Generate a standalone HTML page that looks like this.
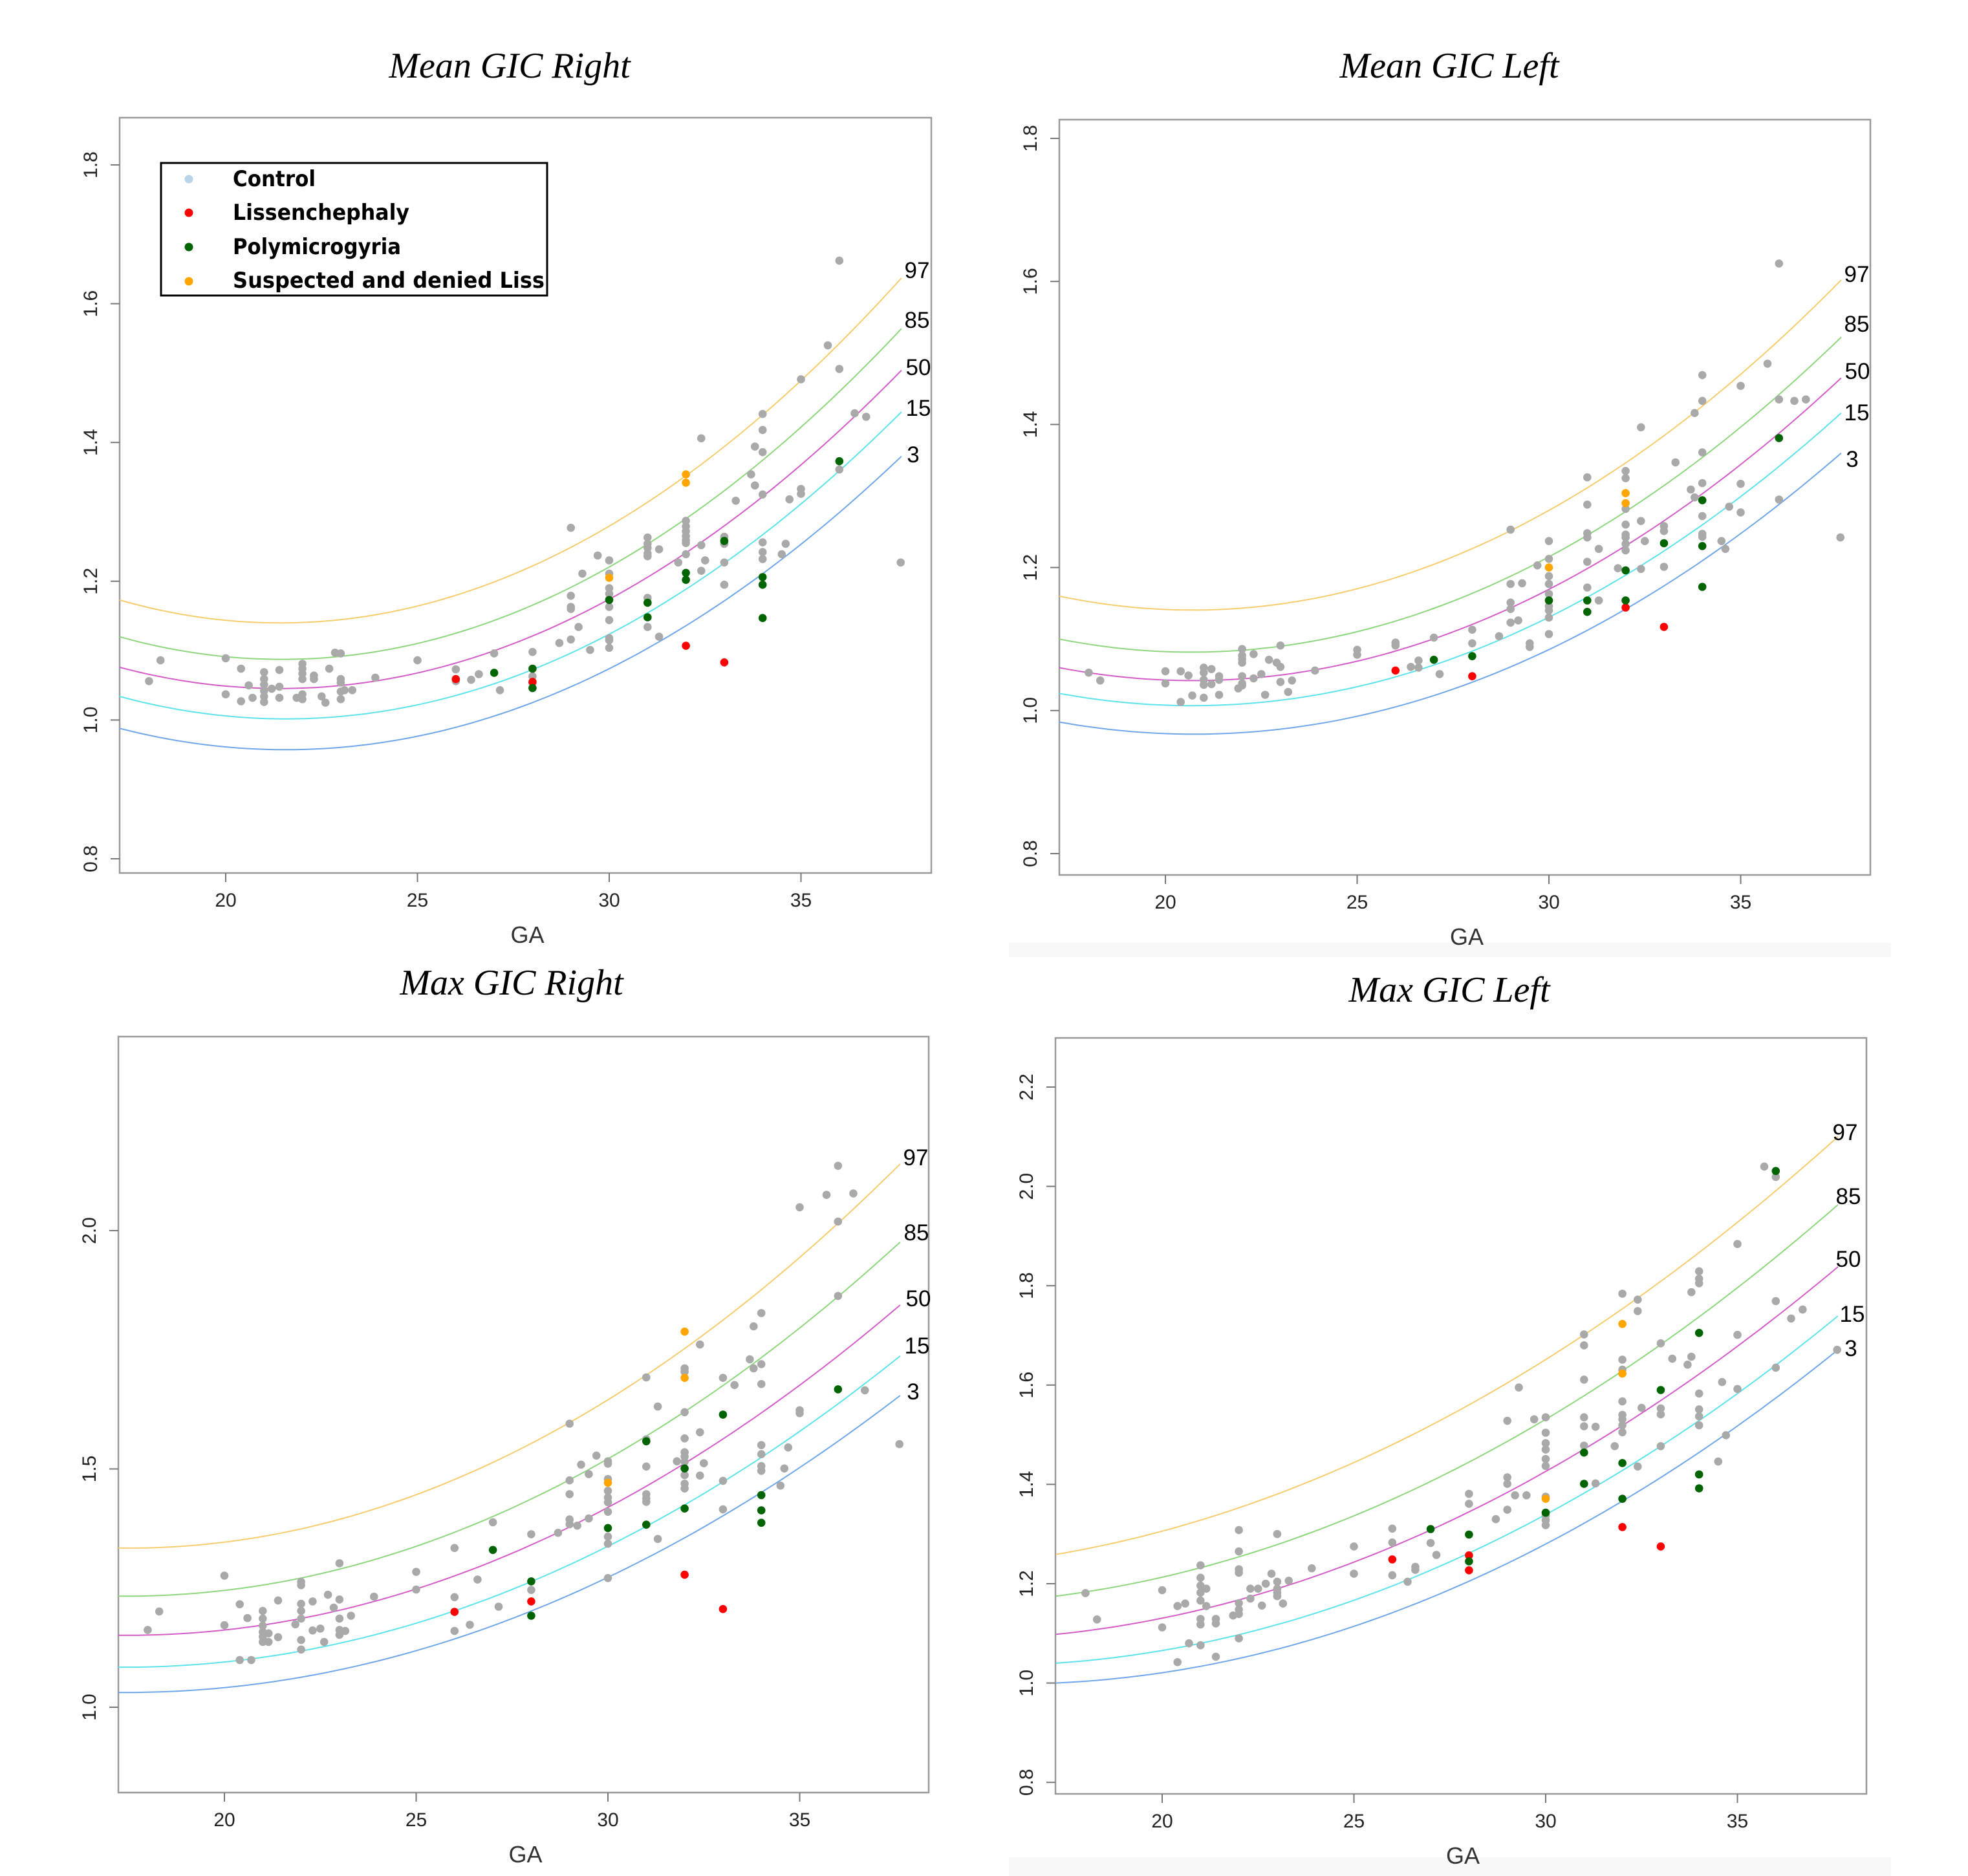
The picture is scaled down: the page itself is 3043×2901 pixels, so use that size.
<!DOCTYPE html>
<html><head><meta charset="utf-8"><style>
html,body{margin:0;padding:0;background:#fff;}
svg{display:block;}
</style></head><body>
<svg id="chart" xmlns="http://www.w3.org/2000/svg" width="3043" height="2901" viewBox="0 0 3043 2901">
<rect x="0" y="0" width="3043" height="2901" fill="#fff"/>
<rect x="1560" y="1458" width="1364" height="22" fill="#f8f8f8"/>
<rect x="1560" y="2872" width="1364" height="29" fill="#f8f8f8"/>
</svg>
<script>
// ---------- DATA ----------
const percentiles = ["97","85","50","15","3"];
const curveColors = ["#f6cc6e","#8ed67e","#d45cc8","#5de3ea","#6fa6ea"];
const curveGA = [17.23, 27.5, 37.62];

// Mean GIC Right
const tlCurves = [[1.173,1.210,1.637],[1.120,1.154,1.564],[1.076,1.110,1.504],[1.034,1.062,1.444],[0.988,1.015,1.380]];
const tlGray = [[18,1.056],[18.3,1.086],[20,1.089],[20,1.037],[20.4,1.074],[20.4,1.027],[20.6,1.050],[20.7,1.032],
[21,1.069],[21,1.059],[21,1.051],[21,1.042],[21,1.034],[21,1.026],[21.2,1.045],[21.4,1.072],[21.4,1.048],[21.4,1.032],
[21.85,1.032],[22,1.081],[22,1.074],[22,1.067],[22,1.059],[22,1.037],[22,1.030],[22.3,1.064],[22.3,1.059],[22.5,1.034],
[22.6,1.025],[22.7,1.074],[22.85,1.097],[23,1.096],[23,1.059],[23,1.054],[23,1.041],[23,1.030],[23.1,1.043],[23.3,1.043],
[23.9,1.061],[25,1.086],[26,1.073],[26,1.056],[26.4,1.058],[26.6,1.066],[27,1.096],[27.15,1.043],[28,1.098],[28,1.063],
[28,1.054],[28.7,1.111],[29,1.277],[29,1.179],[29,1.163],[29,1.160],[29,1.116],[29.2,1.134],[29.3,1.211],[29.5,1.101],
[29.7,1.237],[30,1.230],[30,1.211],[30,1.190],[30,1.182],[30,1.174],[30,1.163],[30,1.144],[30,1.118],[30,1.115],[30,1.104],
[31,1.263],[31,1.254],[31,1.248],[31,1.240],[31,1.236],[31,1.176],[31,1.134],[31.3,1.246],[31.3,1.120],[31.8,1.227],
[32,1.287],[32,1.279],[32,1.272],[32,1.265],[32,1.259],[32,1.255],[32,1.239],[32.4,1.406],[32.4,1.252],[32.4,1.215],
[32.5,1.230],[33,1.264],[33,1.254],[33,1.227],[33,1.195],[33.3,1.316],[33.7,1.354],[33.8,1.394],[33.8,1.338],
[34,1.441],[34,1.418],[34,1.386],[34,1.325],[34,1.256],[34,1.242],[34,1.232],[34.5,1.239],[34.6,1.254],[34.7,1.318],
[35,1.491],[35,1.333],[35,1.326],[35.7,1.540],[36,1.662],[36,1.506],[36,1.361],[36.4,1.442],[36.7,1.437],[37.6,1.227]];
const tlRed = [[26,1.059],[28,1.055],[32,1.107],[33,1.083]];
const tlGreen = [[27,1.068],[28,1.074],[28,1.046],[30,1.173],[31,1.169],[31,1.148],[32,1.212],[32,1.202],[33,1.258],[34,1.206],[34,1.195],[34,1.147],[36,1.373]];
const tlOrange = [[30,1.205],[32,1.354],[32,1.342]];

// Mean GIC Left
const trCurves = [[1.160,1.215,1.602],[1.100,1.153,1.522],[1.060,1.110,1.465],[1.024,1.073,1.416],[0.984,1.030,1.360]];
const trGray = [[18,1.053],[18.3,1.042],[20,1.055],[20,1.038],[20.4,1.055],[20.4,1.012],[20.6,1.049],[20.7,1.021],
[21,1.060],[21,1.053],[21,1.043],[21,1.036],[21,1.018],[21.2,1.058],[21.2,1.037],[21.4,1.048],[21.4,1.043],[21.4,1.022],
[21.9,1.031],[22,1.086],[22,1.077],[22,1.072],[22,1.067],[22,1.048],[22,1.038],[22,1.035],[22.3,1.079],[22.3,1.045],
[22.5,1.051],[22.6,1.022],[22.7,1.071],[22.9,1.067],[23,1.091],[23,1.061],[23,1.040],[23.2,1.026],[23.3,1.042],[23.9,1.056],
[25,1.085],[25,1.078],[26,1.095],[26,1.091],[26.4,1.061],[26.6,1.070],[26.6,1.060],[27,1.102],[27.15,1.051],[28,1.113],
[28,1.094],[28.7,1.104],[29,1.253],[29,1.177],[29,1.151],[29,1.142],[29,1.123],[29.2,1.126],[29.3,1.178],[29.5,1.094],
[29.5,1.089],[29.7,1.203],[30,1.237],[30,1.212],[30,1.188],[30,1.177],[30,1.163],[30,1.146],[30,1.140],[30,1.130],[30,1.107],
[31,1.326],[31,1.288],[31,1.248],[31,1.242],[31,1.208],[31,1.172],[31.3,1.226],[31.3,1.154],[31.8,1.199],
[32,1.335],[32,1.325],[32,1.282],[32,1.260],[32,1.246],[32,1.242],[32,1.233],[32,1.224],[32.4,1.396],[32.4,1.265],[32.4,1.198],
[32.5,1.237],[33,1.258],[33,1.251],[33,1.201],[33.3,1.347],[33.7,1.309],[33.8,1.416],[33.8,1.298],
[34,1.469],[34,1.433],[34,1.361],[34,1.318],[34,1.272],[34,1.247],[34,1.243],[34.5,1.237],[34.6,1.226],[34.7,1.285],
[35,1.454],[35,1.317],[35,1.277],[35.7,1.485],[36,1.625],[36,1.435],[36,1.295],[36.4,1.433],[36.7,1.435],[37.6,1.242]];
const trRed = [[26,1.056],[28,1.048],[32,1.144],[33,1.117]];
const trGreen = [[27,1.071],[28,1.076],[30,1.154],[31,1.154],[31,1.138],[32,1.196],[32,1.154],[33,1.234],[34,1.294],[34,1.230],[34,1.173],[36,1.381]];
const trOrange = [[30,1.200],[32,1.304],[32,1.290]];

// Max GIC Right
const blCurves = [[1.334,1.533,2.140],[1.233,1.418,1.976],[1.151,1.323,1.844],[1.084,1.247,1.737],[1.031,1.186,1.654]];
const blGray = [[18,1.162],[18.3,1.201],[20,1.276],[20,1.172],[20.4,1.216],[20.4,1.099],[20.6,1.187],[20.7,1.099],
[21,1.202],[21,1.186],[21,1.171],[21,1.158],[21,1.148],[21,1.137],[21.15,1.155],[21.15,1.137],[21.4,1.224],[21.4,1.147],
[21.85,1.174],[22,1.263],[22,1.256],[22,1.217],[22,1.202],[22,1.186],[22,1.141],[22,1.121],[22.3,1.222],[22.3,1.161],
[22.5,1.165],[22.6,1.137],[22.7,1.236],[22.85,1.209],[23,1.302],[23,1.226],[23,1.186],[23,1.162],[23,1.152],[23.15,1.160],
[23.3,1.192],[23.9,1.232],[25,1.284],[25,1.247],[26,1.334],[26,1.231],[26,1.160],[26.4,1.173],[26.6,1.268],[27,1.388],
[27.15,1.211],[28,1.363],[28,1.246],[28.7,1.366],[29,1.595],[29,1.476],[29,1.447],[29,1.394],[29,1.384],[29.2,1.381],
[29.3,1.509],[29.5,1.489],[29.5,1.396],[29.7,1.528],[30,1.516],[30,1.511],[30,1.479],[30,1.454],[30,1.440],[30,1.430],
[30,1.410],[30,1.358],[30,1.343],[30,1.271],[31,1.692],[31,1.562],[31,1.505],[31,1.447],[31,1.438],[31,1.431],[31.3,1.631],
[31.3,1.353],[31.8,1.516],[32,1.711],[32,1.704],[32,1.619],[32,1.564],[32,1.535],[32,1.526],[32,1.515],[32,1.487],[32,1.469],
[32,1.459],[32.4,1.761],[32.4,1.577],[32.4,1.486],[32.5,1.512],[33,1.691],[33,1.475],[33,1.415],[33.3,1.676],[33.7,1.730],
[33.8,1.799],[33.8,1.711],[34,1.827],[34,1.720],[34,1.678],[34,1.550],[34,1.531],[34,1.506],[34,1.496],[34.5,1.465],
[34.6,1.501],[34.7,1.545],[35,2.049],[35,1.623],[35,1.617],[35.7,2.075],[36,2.136],[36,2.019],[36,1.863],[36.4,2.078],
[36.7,1.665],[37.6,1.552]];
const blRed = [[26,1.200],[28,1.222],[32,1.278],[33,1.206]];
const blGreen = [[27,1.330],[28,1.264],[28,1.192],[30,1.376],[31,1.558],[31,1.383],[32,1.501],[32,1.417],[33,1.614],[34,1.445],[34,1.413],[34,1.387],[36,1.667]];
const blOrange = [[30,1.471],[32,1.788],[32,1.691]];

// Max GIC Left
const brCurves = [[1.259,1.539,2.100],[1.175,1.425,1.963],[1.098,1.326,1.838],[1.040,1.244,1.739],[1.000,1.188,1.671]];
const brGray = [[18,1.181],[18.3,1.128],[20,1.187],[20,1.112],[20.4,1.155],[20.4,1.042],[20.6,1.160],[20.7,1.080],
[21,1.237],[21,1.212],[21,1.196],[21,1.182],[21,1.166],[21,1.129],[21,1.118],[21,1.076],[21.15,1.190],[21.15,1.155],
[21.4,1.129],[21.4,1.120],[21.4,1.053],[21.85,1.136],[22,1.308],[22,1.265],[22,1.229],[22,1.222],[22,1.161],[22,1.148],
[22,1.139],[22,1.090],[22.3,1.190],[22.3,1.170],[22.5,1.190],[22.6,1.156],[22.7,1.200],[22.85,1.220],[23,1.300],[23,1.204],
[23,1.190],[23,1.182],[23,1.175],[23.15,1.160],[23.3,1.206],[23.9,1.231],[25,1.275],[25,1.220],[26,1.311],[26,1.283],
[26,1.217],[26.4,1.204],[26.6,1.234],[26.6,1.228],[27,1.282],[27.15,1.258],[28,1.381],[28,1.361],[28.7,1.330],[29,1.528],
[29,1.414],[29,1.401],[29,1.349],[29.2,1.378],[29.3,1.595],[29.5,1.378],[29.7,1.531],[30,1.535],[30,1.504],[30,1.483],
[30,1.470],[30,1.451],[30,1.437],[30,1.375],[30,1.337],[30,1.328],[30,1.318],[31,1.702],[31,1.680],[31,1.611],[31,1.535],
[31,1.517],[31,1.478],[31.3,1.516],[31.3,1.402],[31.8,1.477],[32,1.784],[32,1.651],[32,1.631],[32,1.567],[32,1.540],
[32,1.531],[32,1.519],[32,1.505],[32.4,1.772],[32.4,1.749],[32.4,1.436],[32.5,1.554],[33,1.684],[33,1.553],[33,1.541],
[33,1.477],[33.3,1.653],[33.7,1.641],[33.8,1.787],[33.8,1.657],[34,1.829],[34,1.814],[34,1.805],[34,1.583],[34,1.551],
[34,1.537],[34,1.519],[34.5,1.446],[34.6,1.606],[34.7,1.499],[35,1.884],[35,1.701],[35,1.592],[35.7,2.040],[36,2.019],
[36,1.769],[36,1.635],[36.4,1.734],[36.7,1.752],[37.6,1.671]];
const brRed = [[26,1.249],[28,1.257],[28,1.227],[32,1.314],[33,1.275]];
const brGreen = [[27,1.310],[28,1.299],[28,1.245],[30,1.343],[31,1.464],[31,1.401],[32,1.443],[32,1.371],[33,1.590],[34,1.705],[34,1.420],[34,1.392],[36,2.031]];
const brOrange = [[30,1.371],[32,1.723],[32,1.623]];

const xTicks = [20,25,30,35];
const tlYTicks = ["0.8","1.0","1.2","1.4","1.6","1.8"];
const trYTicks = ["0.8","1.0","1.2","1.4","1.6","1.8"];
const blYTicks = ["1.0","1.5","2.0"];
const brYTicks = ["0.8","1.0","1.2","1.4","1.6","1.8","2.0","2.2"];
const titles = ["Mean GIC Right","Mean GIC Left","Max GIC Right","Max GIC Left"];
const legendLabels = ["Control","Lissenchephaly","Polymicrogyria","Suspected and denied Liss"];
const legendColors = ["#b9d3e8","#ff0000","#006400","#ffa500"];

// ---------- LAYOUT ----------
const panels = [
 {key:"mean-gic-right", title:titles[0], box:[185,182,1440,1350], x20:349, y0:255, v0:1.8, pxPerV:1073, yt:tlYTicks, curves:tlCurves, gray:tlGray, red:tlRed, green:tlGreen, orange:tlOrange, titleX:788, titleY:120,
  labels:[[1418,430],[1418,507],[1420,580],[1420,643],[1412,715]], legend:true},
 {key:"mean-gic-left", title:titles[1], box:[1638,185,2892,1353], x20:1802, y0:214, v0:1.8, pxPerV:1106, yt:trYTicks, curves:trCurves, gray:trGray, red:trRed, green:trGreen, orange:trOrange, titleX:2241, titleY:120,
  labels:[[2871,436],[2871,513],[2872,586],[2871,650],[2864,722]]},
 {key:"max-gic-right", title:titles[2], box:[183,1603,1436,2772], x20:347, y0:1903, v0:2.0, pxPerV:737, yt:blYTicks, curves:blCurves, gray:blGray, red:blRed, green:blGreen, orange:blOrange, titleX:791, titleY:1538,
  labels:[[1416,1802],[1417,1918],[1420,2020],[1418,2093],[1412,2164]]},
 {key:"max-gic-left", title:titles[3], box:[1632,1605,2886,2774], x20:1797, y0:1681, v0:2.2, pxPerV:768, yt:brYTicks, curves:brCurves, gray:brGray, red:brRed, green:brGreen, orange:brOrange, titleX:2241, titleY:1549,
  labels:[[2853,1763],[2858,1862],[2858,1959],[2864,2044],[2862,2097]]}
];
const pxPerGA = 59.3;
const NS = "http://www.w3.org/2000/svg";
const svg = document.getElementById("chart");
function mk(tag, attrs, parent){ const e=document.createElementNS(NS,tag); for(const k in attrs) e.setAttribute(k,attrs[k]); (parent||svg).appendChild(e); return e; }
function quad(xs, ys, x){
  let s=0;
  for(let i=0;i<3;i++){ let t=ys[i]; for(let j=0;j<3;j++){ if(j!==i) t*=(x-xs[j])/(xs[i]-xs[j]); } s+=t; }
  return s;
}

panels.forEach(p=>{
  const g = mk("g",{});
  
  
  const xS = ga => p.x20 + (ga-20)*pxPerGA;
  const yS = v => p.y0 + (p.v0 - v)*p.pxPerV;
  const [L,T,R,B] = p.box;

  const title = mk("text",{x:p.titleX,y:p.titleY,"text-anchor":"middle","font-family":"Liberation Serif, serif","font-style":"italic","font-size":"56",fill:"#000"},g);
  title.textContent = p.title;
  
  

  const frame = mk("rect",{x:L,y:T,width:R-L,height:B-T,fill:"none",stroke:"#999",  "stroke-width":"2.5"},g);
  
  

  xTicks.forEach(t=>{
    const x = xS(t);
    const tk = mk("line",{x1:x,y1:B,x2:x,y2:B+14,stroke:"#777","stroke-width":"2"},g);
    
    
    const lb = mk("text",{x:x,y:B+52,"text-anchor":"middle","font-family":"Liberation Sans, sans-serif","font-size":"30",fill:"#222"},g);
    lb.textContent = t;
    
    
  });
  const ga = mk("text",{x:(L+R)/2+3,y:B+108,"text-anchor":"middle","font-family":"Liberation Sans, sans-serif","font-size":"36",fill:"#333"},g);
  ga.textContent = "GA";
  
  

  p.yt.forEach(t=>{
    const y = yS(parseFloat(t));
    const tk = mk("line",{x1:L-14,y1:y,x2:L,y2:y,stroke:"#777","stroke-width":"2"},g);
    
    
    const lb = mk("text",{x:0,y:0,"text-anchor":"middle","font-family":"Liberation Sans, sans-serif","font-size":"30",fill:"#222",transform:`translate(${L-35},${y}) rotate(-90)`},g);
    lb.textContent = t;
    
    
  });

  p.curves.forEach((c,i)=>{
    let d="";
    for(let k=0;k<=80;k++){
      const x = curveGA[0] + (curveGA[2]-curveGA[0])*k/80;
      d += (k?"L":"M") + xS(x).toFixed(1) + "," + yS(quad(curveGA,c,x)).toFixed(1);
    }
    const path = mk("path",{d:d,fill:"none",stroke:curveColors[i],"stroke-width":"2"},g);
    
    
    const lb = mk("text",{x:p.labels[i][0],y:p.labels[i][1],"text-anchor":"middle","font-family":"Liberation Sans, sans-serif","font-size":"35",fill:"#000"},g);
    lb.textContent = percentiles[i];
    
    
  });

  const groups = [["control",p.gray,"#a9a9a9"],["lissencephaly",p.red,"#ff0000"],["polymicrogyria",p.green,"#006400"],["suspected-denied",p.orange,"#ffa500"]];
  groups.forEach(([name,pts,col])=>{
    pts.forEach(pt=>{
      const c = mk("circle",{cx:xS(pt[0]).toFixed(1),cy:yS(pt[1]).toFixed(1),r:"6.3",fill:col},g);
      
      
    });
  });

  if(p.legend){
    const lg = mk("g",{},g);
    
    
    const box = mk("rect",{x:249,y:252,width:597,height:205,fill:"#fff",stroke:"#000","stroke-width":"3"},lg);
    
    
    const dotY = [277,329,382,435];
    const baseY = [288,340,393,445];
    const widths = [128,273,260,482];
    legendLabels.forEach((lab,i)=>{
      const d = mk("circle",{cx:292,cy:dotY[i],r:"6.5",fill:legendColors[i]},lg);
      
      
      const t = mk("text",{x:360,y:baseY[i],"font-family":"DejaVu Sans, sans-serif","font-size":"34","font-weight":"bold",fill:"#000",textLength:widths[i],lengthAdjust:"spacingAndGlyphs"},lg);
      t.textContent = lab;
      
      
    });
  }
});
</script>
</body></html>
